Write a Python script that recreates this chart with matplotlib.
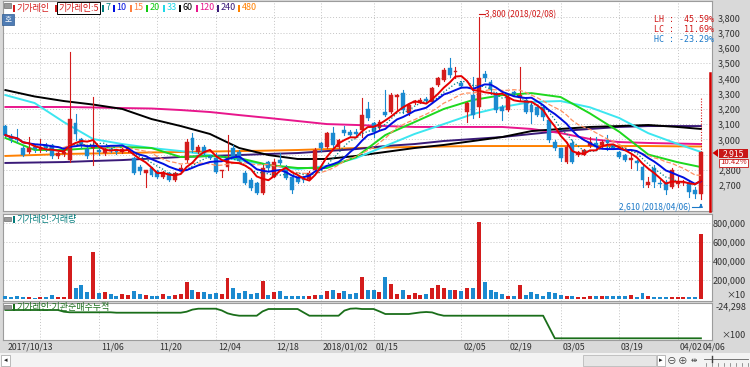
import numpy as np
import pandas as pd
import matplotlib
matplotlib.use('Agg')
import matplotlib.pyplot as plt
from matplotlib.patches import Rectangle, Polygon
from matplotlib.transforms import offset_copy

plt.rcParams['font.family'] = ['Noto Sans CJK KR', 'DejaVu Sans']
plt.rcParams['axes.unicode_minus'] = False

W, H = 750, 367  # 픽셀 크기

# 1. 데이터
start_day, end_day = '2017-10-13', '2018-04-06'
holidays = ['2017-12-25', '2017-12-29', '2018-01-01', '2018-02-15', '2018-02-16', '2018-03-01']

opens = [3087, 3020, 3005, 2945, 2915, 2950, 2930, 2955, 2960, 2890,
         2905, 2864, 3104, 3000, 2935, 2945, 2930, 2910, 2935, 2925,
         2915, 2930, 2875, 2820, 2780, 2810, 2790, 2755, 2777, 2733,
         2790, 2864, 3006, 2919, 2951, 2890, 2875, 2790, 2820, 2940,
         2919, 2777, 2733, 2711, 2645, 2853, 2755, 2864, 2820, 2755,
         2755, 2740, 2740, 2798, 2973, 2951, 3039, 2951, 3060, 3050,
         3050, 3060, 3202, 3104, 3071, 3181, 3181, 3280, 3305, 3170,
         3240, 3240, 3265, 3246, 3355, 3388, 3465, 3440, 3370, 3181,
         3290, 3213, 3430, 3378, 3301, 3214, 3192, 3310, 3268, 3257,
         3225, 3214, 3214, 3126, 2984, 2940, 2853, 2973, 2897, 2900,
         2955, 2973, 2962, 2995, 2962, 2919, 2897, 2864, 2860, 2820,
         2700, 2809, 2715, 2722, 2689, 2710, 2712, 2715, 2667, 2640]
highs = [3095, 3035, 3070, 2955, 3015, 2965, 3005, 2975, 2970, 2920,
         2925, 3574, 3166, 3010, 2950, 3277, 2950, 2945, 2950, 2935,
         2945, 2950, 2885, 2830, 2800, 2820, 2800, 2795, 2785, 2785,
         2830, 3000, 3039, 2960, 2960, 2900, 2910, 2800, 3028, 2960,
         2930, 2790, 2745, 2720, 2830, 2860, 2870, 2908, 2830, 2760,
         2765, 2760, 2790, 2940, 2980, 3045, 3080, 3000, 3090, 3060,
         3065, 3268, 3246, 3115, 3125, 3323, 3305, 3300, 3323, 3235,
         3260, 3270, 3275, 3340, 3410, 3465, 3530, 3475, 3380, 3246,
         3410, 3800, 3450, 3390, 3310, 3225, 3290, 3320, 3476, 3280,
         3235, 3225, 3220, 3137, 2995, 2945, 2984, 2995, 2925, 2935,
         3017, 3017, 2995, 3028, 2970, 2925, 2905, 2908, 2864, 2830,
         2750, 2830, 2730, 2730, 2810, 2760, 2730, 2730, 2690, 3270]
lows = [3020, 2985, 2985, 2890, 2910, 2920, 2920, 2925, 2880, 2880,
        2890, 2853, 2995, 2940, 2880, 2830, 2900, 2900, 2920, 2905,
        2910, 2920, 2770, 2770, 2690, 2760, 2745, 2745, 2725, 2725,
        2780, 2850, 2920, 2910, 2900, 2870, 2780, 2755, 2800, 2880,
        2860, 2705, 2670, 2640, 2640, 2800, 2750, 2840, 2740, 2650,
        2715, 2720, 2735, 2790, 2925, 2945, 2950, 2945, 3030, 3025,
        3030, 3017, 3125, 3017, 3060, 3150, 3170, 3190, 3170, 3160,
        3230, 3235, 3245, 3240, 3350, 3380, 3410, 3400, 3340, 3115,
        3140, 3148, 3380, 3300, 3180, 3126, 3185, 3285, 3260, 3170,
        3105, 3150, 3126, 2984, 2930, 2860, 2842, 2842, 2890, 2895,
        2950, 2930, 2940, 2930, 2935, 2880, 2860, 2810, 2798, 2689,
        2690, 2690, 2690, 2640, 2680, 2690, 2700, 2625, 2612, 2610]
closes = [3028, 3000, 2995, 2900, 2945, 2935, 2950, 2940, 2890, 2910,
          2915, 3133, 3032, 2955, 2890, 2965, 2915, 2935, 2925, 2915,
          2935, 2940, 2780, 2790, 2800, 2766, 2755, 2788, 2733, 2777,
          2810, 2984, 2930, 2951, 2908, 2880, 2787, 2800, 2880, 2886,
          2864, 2711, 2678, 2645, 2810, 2815, 2853, 2845, 2744, 2667,
          2722, 2735, 2780, 2930, 2940, 3039, 2962, 2995, 3040, 3030,
          3035, 3159, 3137, 3050, 3115, 3159, 3290, 3290, 3192, 3224,
          3250, 3255, 3250, 3334, 3399, 3454, 3421, 3450, 3350, 3235,
          3159, 3399, 3400, 3323, 3192, 3185, 3279, 3300, 3290, 3181,
          3181, 3160, 3148, 2995, 2940, 2875, 2951, 2853, 2919, 2930,
          2985, 2951, 2984, 2973, 2940, 2886, 2864, 2875, 2845, 2733,
          2720, 2722, 2705, 2667, 2798, 2720, 2715, 2656, 2640, 2915]
# 거래량 (천 주)
volumes = [27, 20, 27, 20, 20, 10, 17, 17, 45, 20,
           20, 457, 120, 148, 79, 498, 62, 72, 52, 34,
           52, 45, 86, 52, 45, 34, 27, 55, 27, 45,
           55, 175, 100, 72, 79, 52, 62, 55, 216, 120,
           62, 86, 52, 58, 189, 45, 72, 82, 34, 27,
           34, 27, 27, 38, 38, 86, 93, 62, 82, 55,
           62, 233, 93, 93, 72, 230, 155, 55, 93, 41,
           58, 41, 52, 113, 144, 113, 100, 93, 86, 120,
           113, 815, 175, 100, 79, 52, 34, 27, 144, 41,
           79, 55, 27, 79, 58, 41, 27, 34, 20, 20,
           34, 27, 27, 27, 27, 27, 27, 41, 20, 60,
           34, 24, 22, 20, 22, 22, 20, 25, 25, 687]
# 기관순매수누적
inst_cum = [-25800, -25800, -25800, -25800, -25800, -25800, -25800, -25800, -25800, -25800,
            -26650, -26950, -26950, -26950, -26950, -26950, -26950, -26950, -26950, -27150,
            -27150, -27150, -27150, -27150, -27150, -27150, -27150, -27150, -27150, -27150,
            -27150, -26650, -25600, -25150, -25150, -25150, -25150, -26000, -27450, -28200,
            -28650, -28650, -28650, -28650, -26500, -25300, -25300, -25300, -25300, -25300,
            -25300, -27000, -28650, -28650, -28650, -28650, -28650, -28650, -26100, -25150,
            -25000, -25300, -25300, -25300, -26500, -27800, -27800, -27800, -27800, -27800,
            -27400, -27000, -26800, -27000, -28000, -28650, -28650, -28650, -28650, -28650,
            -28650, -28650, -28650, -28650, -28650, -28650, -28650, -28650, -28650, -28650,
            -28650, -28650, -28650, -34300, -39950, -39950, -39950, -39950, -39950, -39950,
            -39950, -39950, -39950, -39950, -39950, -39950, -39950, -39950, -39950, -39950,
            -39950, -39950, -39950, -39950, -39950, -39950, -39950, -39950, -39950, -39950]

# 장기 이동평균선 (5일 간격으로 읽은 값)
ma_idx = [0, 5, 10, 15, 20, 25, 30, 35, 40, 45, 50, 55, 60, 65, 70, 75, 80, 85, 90, 95, 100, 105, 110, 115, 119]
ma20 = [3009, 2930, 2930, 2943, 2950, 2943, 2884, 2891, 2877, 2832, 2812, 2812, 2884,
        3028, 3113, 3199, 3258, 3290, 3303, 3277, 3170, 3050, 2900, 2850, 2818]
ma33 = [3290, 3238, 3113, 3002, 2969, 2943, 2923, 2897, 2864, 2832, 2805, 2825, 2877,
        2956, 3035, 3100, 3166, 3212, 3245, 3251, 3210, 3140, 3040, 2970, 2917]
ma60 = [3323, 3281, 3251, 3228, 3199, 3133, 3087, 3035, 2943, 2897, 2871, 2871, 2891,
        2917, 2943, 2963, 2989, 3015, 3054, 3068, 3081, 3087, 3094, 3081, 3068]
ma120 = [3212, 3212, 3212, 3209, 3205, 3202, 3192, 3179, 3159, 3140, 3120, 3100, 3094,
         3087, 3081, 3081, 3081, 3081, 3068, 3041, 3002, 2982, 2976, 2972, 2969]
ma240 = [2845, 2848, 2851, 2858, 2864, 2874, 2884, 2891, 2897, 2904, 2910, 2923, 2936,
         2956, 2969, 2989, 3002, 3015, 3035, 3054, 3068, 3081, 3087, 3087, 3087]
ma480 = [2891, 2897, 2904, 2907, 2910, 2914, 2917, 2920, 2923, 2926, 2930, 2936, 2943,
         2946, 2950, 2953, 2956, 2956, 2956, 2956, 2956, 2956, 2956, 2954, 2953]

grid_dates = ['2017-10-23', '2017-11-06', '2017-11-20', '2017-12-04', '2017-12-18', '2018-01-02',
              '2018-01-15', '2018-02-05', '2018-02-19', '2018-03-05', '2018-03-19', '2018-04-02']
tick_dates = ['2017-10-13', '2017-11-06', '2017-11-20', '2017-12-04', '2017-12-18', '2018-01-02',
              '2018-01-15', '2018-02-05', '2018-02-19', '2018-03-05', '2018-03-19', '2018-04-02', '2018-04-06']
tick_labels = ['2017/10/13', '11/06', '11/20', '12/04', '12/18', '2018/01/02',
               '01/15', '02/05', '02/19', '03/05', '03/19', '04/02', '04/06']
price_ticks = [2700, 2800, 2900, 3000, 3100, 3200, 3300, 3400, 3500, 3600, 3700, 3800]
hidden_tick = 2900  # 현재가 박스에 가려진 눈금
vol_ticks = [200, 400, 600, 800]

high_price, high_day, high_text = 3800, '2018-02-08', '3,800 (2018/02/08)'
low_price, low_day, low_text = 2610, '2018-04-06', '2,610 (2018/04/06)'
limit_up = 3432
last_close, last_change = '2,915', '10.42%'
stats = [('LH :  45.59%', '#d01818'), ('LC :  11.69%', '#d01818'), ('HC : -23.29%', '#1a78c8')]

# 스타일
PANEL = '#d9d9d9'
UP, DOWN = '#d41c1c', '#1b8ad0'
GRID = '#c4c4c4'
TXT = '#303030'
XLIM = (-0.41, 120.89)
ma_styles = {5: ('#e60000', '-', 1.4), 7: ('#008080', ':', 0.9), 10: ('#0010e0', '-', 1.4),
             15: ('#ff9060', '--', 0.9), 20: ('#1ed81e', '-', 1.4), 33: ('#3ce6f0', '-', 1.4),
             60: ('#000000', '-', 1.4), 120: ('#e8168c', '-', 1.4), 240: ('#3a1a78', '-', 1.4),
             480: ('#ff8000', '-', 1.4)}


def fig_xy(x, y):
    return x / W, 1 - y / H


def box(fig, x0, y0, x1, y1, **kw):
    # 픽셀 좌표(좌상단 x0,y0 ~ 우하단 x1,y1)로 사각형 추가
    fig.patches.append(Rectangle(fig_xy(x0, y1), (x1 - x0) / W, (y1 - y0) / H,
                                 transform=fig.transFigure, **kw))


def add_pane(fig, top, bottom, left=3, right=712):
    ax = fig.add_axes([left / W, 1 - bottom / H, (right - left) / W, (bottom - top) / H])
    ax.set_facecolor('white')
    ax.set_xlim(*XLIM)
    ax.set_xticks([])
    for s in ax.spines.values():
        s.set_color('#9c9c9c')
        s.set_linewidth(0.8)
    return ax


def right_labels(ax, ticks, labels, right_px):
    ax.yaxis.tick_right()
    ax.set_yticks(ticks)
    ax.set_yticklabels(labels, fontsize=6.5, color=TXT)
    ax.tick_params(axis='y', length=0, pad=(right_px - 712) * 0.72)
    for lab in ax.get_yticklabels():
        lab.set_horizontalalignment('right')


def main():
    days = pd.bdate_range(start_day, end_day)
    days = days[~days.isin(pd.to_datetime(holidays))]
    pos = {d.strftime('%Y-%m-%d'): k for k, d in enumerate(days)}
    n = len(days)
    x = np.arange(n)
    o, h, l, c = map(np.array, (opens, highs, lows, closes))
    up = c >= o
    col = np.where(up, UP, DOWN)

    fig = plt.figure(figsize=(W / 100, H / 100), dpi=100, facecolor=PANEL)

    # 2. 가격 패널
    ax = add_pane(fig, 1, 211)
    ax.set_ylim(2530, 3907)
    right_labels(ax, price_ticks, ['' if p == hidden_tick else f'{p:,}' for p in price_ticks], 741)
    ax.grid(axis='y', linestyle=(0, (1, 2)), color=GRID, lw=0.7)
    for d in grid_dates:
        ax.axvline(pos[d], linestyle=(0, (1, 2)), color=GRID, lw=0.7, zorder=0.5)

    # 이동평균선
    cs = pd.Series(closes)
    long_ma = {480: ma480, 240: ma240, 120: ma120, 60: ma60, 33: ma33, 20: ma20}
    for k, vals in long_ma.items():
        cl, ls, lw = ma_styles[k]
        ax.plot(ma_idx, vals, color=cl, ls=ls, lw=lw, zorder=2)
    for k in [15, 7, 10, 5]:
        cl, ls, lw = ma_styles[k]
        ax.plot(x, cs.rolling(k, min_periods=1).mean(), color=cl, ls=ls, lw=lw, zorder=4)

    # 캔들
    bw = 0.66
    for i in range(n):
        if i == n - 1:
            ax.plot([i, i], [l[i], min(o[i], c[i])], color=col[i], lw=0.8, zorder=3)
            ax.plot([i, i], [max(o[i], c[i]), h[i]], color=col[i], lw=0.8, ls=(0, (1, 1.5)), zorder=3)
        else:
            ax.plot([i, i], [l[i], h[i]], color=col[i], lw=0.8, zorder=3)
        bh = max(abs(c[i] - o[i]), 4)
        ax.add_patch(Rectangle((i - bw / 2, min(o[i], c[i])), bw, bh,
                               facecolor=col[i], edgecolor=col[i], lw=0.3, zorder=3))

    # 상한가 막대
    ax.plot([0.9972, 0.9972], [2530, limit_up], transform=ax.get_yaxis_transform(),
            color='#d00000', lw=1.8, zorder=5, clip_on=False)

    # 최고가 / 최저가 표시
    hi = pos[high_day]
    ax.plot([hi, hi + 1.0], [high_price + 20, high_price + 20], color='#d01818', lw=0.8, zorder=5)
    ax.text(hi + 1.1, high_price + 20, high_text, color='#d01818', fontsize=6, va='center', zorder=6)
    lo = pos[low_day]
    ax.plot([lo - 1.6, lo - 0.1], [low_price - 55, low_price - 55], color='#1a78c8', lw=0.8, zorder=5)
    ax.annotate('', xy=(lo, low_price - 12), xytext=(lo, low_price - 57),
                arrowprops=dict(arrowstyle='-|>', color='#1a78c8', lw=0.8, mutation_scale=5), zorder=5)
    ax.text(lo - 1.8, low_price - 55, low_text, color='#1a78c8', fontsize=6, ha='right', va='center')

    # LH / LC / HC
    for k, (t, cl) in enumerate(stats):
        fig.text(*fig_xy(654, 19 + 10 * k), t, color=cl, fontsize=6, va='center',
                 family=['DejaVu Sans Mono'])

    # 현재가 박스
    fig.patches.append(Polygon([fig_xy(712.5, 153), fig_xy(718, 149), fig_xy(718, 157)],
                               closed=True, transform=fig.transFigure, facecolor='#d00000',
                               edgecolor='none'))
    box(fig, 719, 149, 748, 158, facecolor='#c81818', edgecolor='none')
    fig.text(*fig_xy(733.5, 153.5), last_close, color='white', fontsize=6.2, ha='center', va='center')
    box(fig, 719, 158.5, 748, 166.5, facecolor='white', edgecolor='#c81818', lw=0.6)
    fig.text(*fig_xy(733.5, 162.5), last_change, color='#c81818', fontsize=5.6, ha='center', va='center')

    # 범례 헤더
    box(fig, 4, 3, 11, 8, facecolor='#9a9a9a', edgecolor='#707070', lw=0.5)
    box(fig, 2, 14, 14, 25, facecolor='#4f7cb4', edgecolor='#2f5a90', lw=0.5)
    fig.text(*fig_xy(8, 19.5), '호', color='white', fontsize=5.5, ha='center', va='center')
    head = [('기가레인', '#d41c1c', 13), ('기가레인:5', '#d41c1c', 55), ('7', '#008080', 102),
            ('10', '#0010e0', 113), ('15', '#ff8040', 130), ('20', '#10c810', 146),
            ('33', '#20d8e8', 163), ('60', '#000000', 179), ('120', '#e8168c', 196),
            ('240', '#3a1a78', 217), ('480', '#ff8000', 238)]
    for t, cl, xp in head:
        box(fig, xp, 4.5, xp + 2, 11.5, facecolor=cl, edgecolor='none')
        kw = {}
        if t == '기가레인:5':
            kw['bbox'] = dict(boxstyle='square,pad=0.12', facecolor='white', edgecolor='black', lw=0.7)
        fig.text(*fig_xy(xp + 3.5, 8), t, color=cl, fontsize=6.5, va='center', **kw)

    # 3. 거래량 패널
    axv = add_pane(fig, 214, 301)
    axv.set_ylim(-21, 895)
    axv.bar(x, volumes, width=0.68, color=col, zorder=3)
    right_labels(axv, vol_ticks, [f'{v * 1000:,}' for v in vol_ticks], 746)
    axv.grid(axis='y', linestyle=(0, (1, 2)), color=GRID, lw=0.7)
    for d in grid_dates:
        axv.axvline(pos[d], linestyle=(0, (1, 2)), color=GRID, lw=0.7, zorder=0.5)
    fig.text(*fig_xy(746, 295), '×10', fontsize=6.5, color=TXT, ha='right', va='center')
    box(fig, 4, 217, 11, 221, facecolor='#9a9a9a', edgecolor='#707070', lw=0.5)
    box(fig, 13, 216, 15, 223, facecolor='#007a7a', edgecolor='none')
    fig.text(*fig_xy(16.5, 219.5), '기가레인:거래량', color='#007a7a', fontsize=6.5, va='center')

    # 4. 기관순매수누적 패널
    axc = add_pane(fig, 303, 340)
    axc.set_ylim(-40798, -22298)
    axc.set_yticks([])
    axc.plot(x, inst_cum, color='#1a6e1a', lw=1.3, zorder=3)
    for d in grid_dates:
        axc.axvline(pos[d], linestyle=(0, (1, 2)), color=GRID, lw=0.7, zorder=0.5)
    fig.text(*fig_xy(746, 307), '-24,298', fontsize=6.5, color=TXT, ha='right', va='center')
    fig.text(*fig_xy(746, 335), '×100', fontsize=6.5, color=TXT, ha='right', va='center')
    box(fig, 4, 305, 11, 309, facecolor='#9a9a9a', edgecolor='#707070', lw=0.5)
    box(fig, 13, 304, 15, 311, facecolor='#1a6e1a', edgecolor='none')
    fig.text(*fig_xy(16.5, 307.5), '기가레인:기관순매수누적', color='#1a6e1a', fontsize=6.5, va='center')

    # 날짜 라벨
    tr = offset_copy(axc.get_xaxis_transform(), fig=fig, x=2, y=0, units='dots')
    for d, t in zip(tick_dates, tick_labels):
        axc.text(pos[d], -0.19, t, transform=tr, fontsize=6.3, color=TXT,
                 ha='left', va='center', clip_on=False)

    # 5. 하단 도구막대
    box(fig, 0, 353, 750, 367, facecolor='#f3f3f3', edgecolor='none')
    box(fig, 1, 355, 10, 366, facecolor='white', edgecolor='#a0a0a0', lw=0.5)
    fig.text(*fig_xy(5.5, 360.5), '◂', fontsize=5, ha='center', va='center', color='#222222')
    box(fig, 583, 355, 656, 366, facecolor='#e6e6e6', edgecolor='#b0b0b0', lw=0.5)
    box(fig, 657, 355, 665, 366, facecolor='white', edgecolor='#a0a0a0', lw=0.5)
    fig.text(*fig_xy(661, 360.5), '▸', fontsize=5, ha='center', va='center', color='#222222')
    fig.text(*fig_xy(672, 360.5), '⊖', fontsize=7, ha='center', va='center', color='#404040')
    fig.text(*fig_xy(683, 360.5), '⊕', fontsize=7, ha='center', va='center', color='#404040')
    fig.text(*fig_xy(694, 360.5), '⇹', fontsize=5.5, ha='center', va='center', color='#404040')
    # 슬라이더
    fig.lines.append(plt.Line2D([fig_xy(704, 0)[0], fig_xy(748, 0)[0]], [fig_xy(0, 359)[1]] * 2,
                                transform=fig.transFigure, color='#606060', lw=0.6))
    fig.lines.append(plt.Line2D([fig_xy(712, 0)[0]] * 2, [fig_xy(0, 356)[1], fig_xy(0, 362)[1]],
                                transform=fig.transFigure, color='#404040', lw=1.0))
    for k in range(8):
        xx = fig_xy(706 + 6 * k, 0)[0]
        fig.lines.append(plt.Line2D([xx, xx], [fig_xy(0, 363)[1], fig_xy(0, 366)[1]],
                                    transform=fig.transFigure, color='#707070', lw=0.5))

    fig.savefig('out.png', dpi=100, facecolor=fig.get_facecolor())


if __name__ == '__main__':
    main()
